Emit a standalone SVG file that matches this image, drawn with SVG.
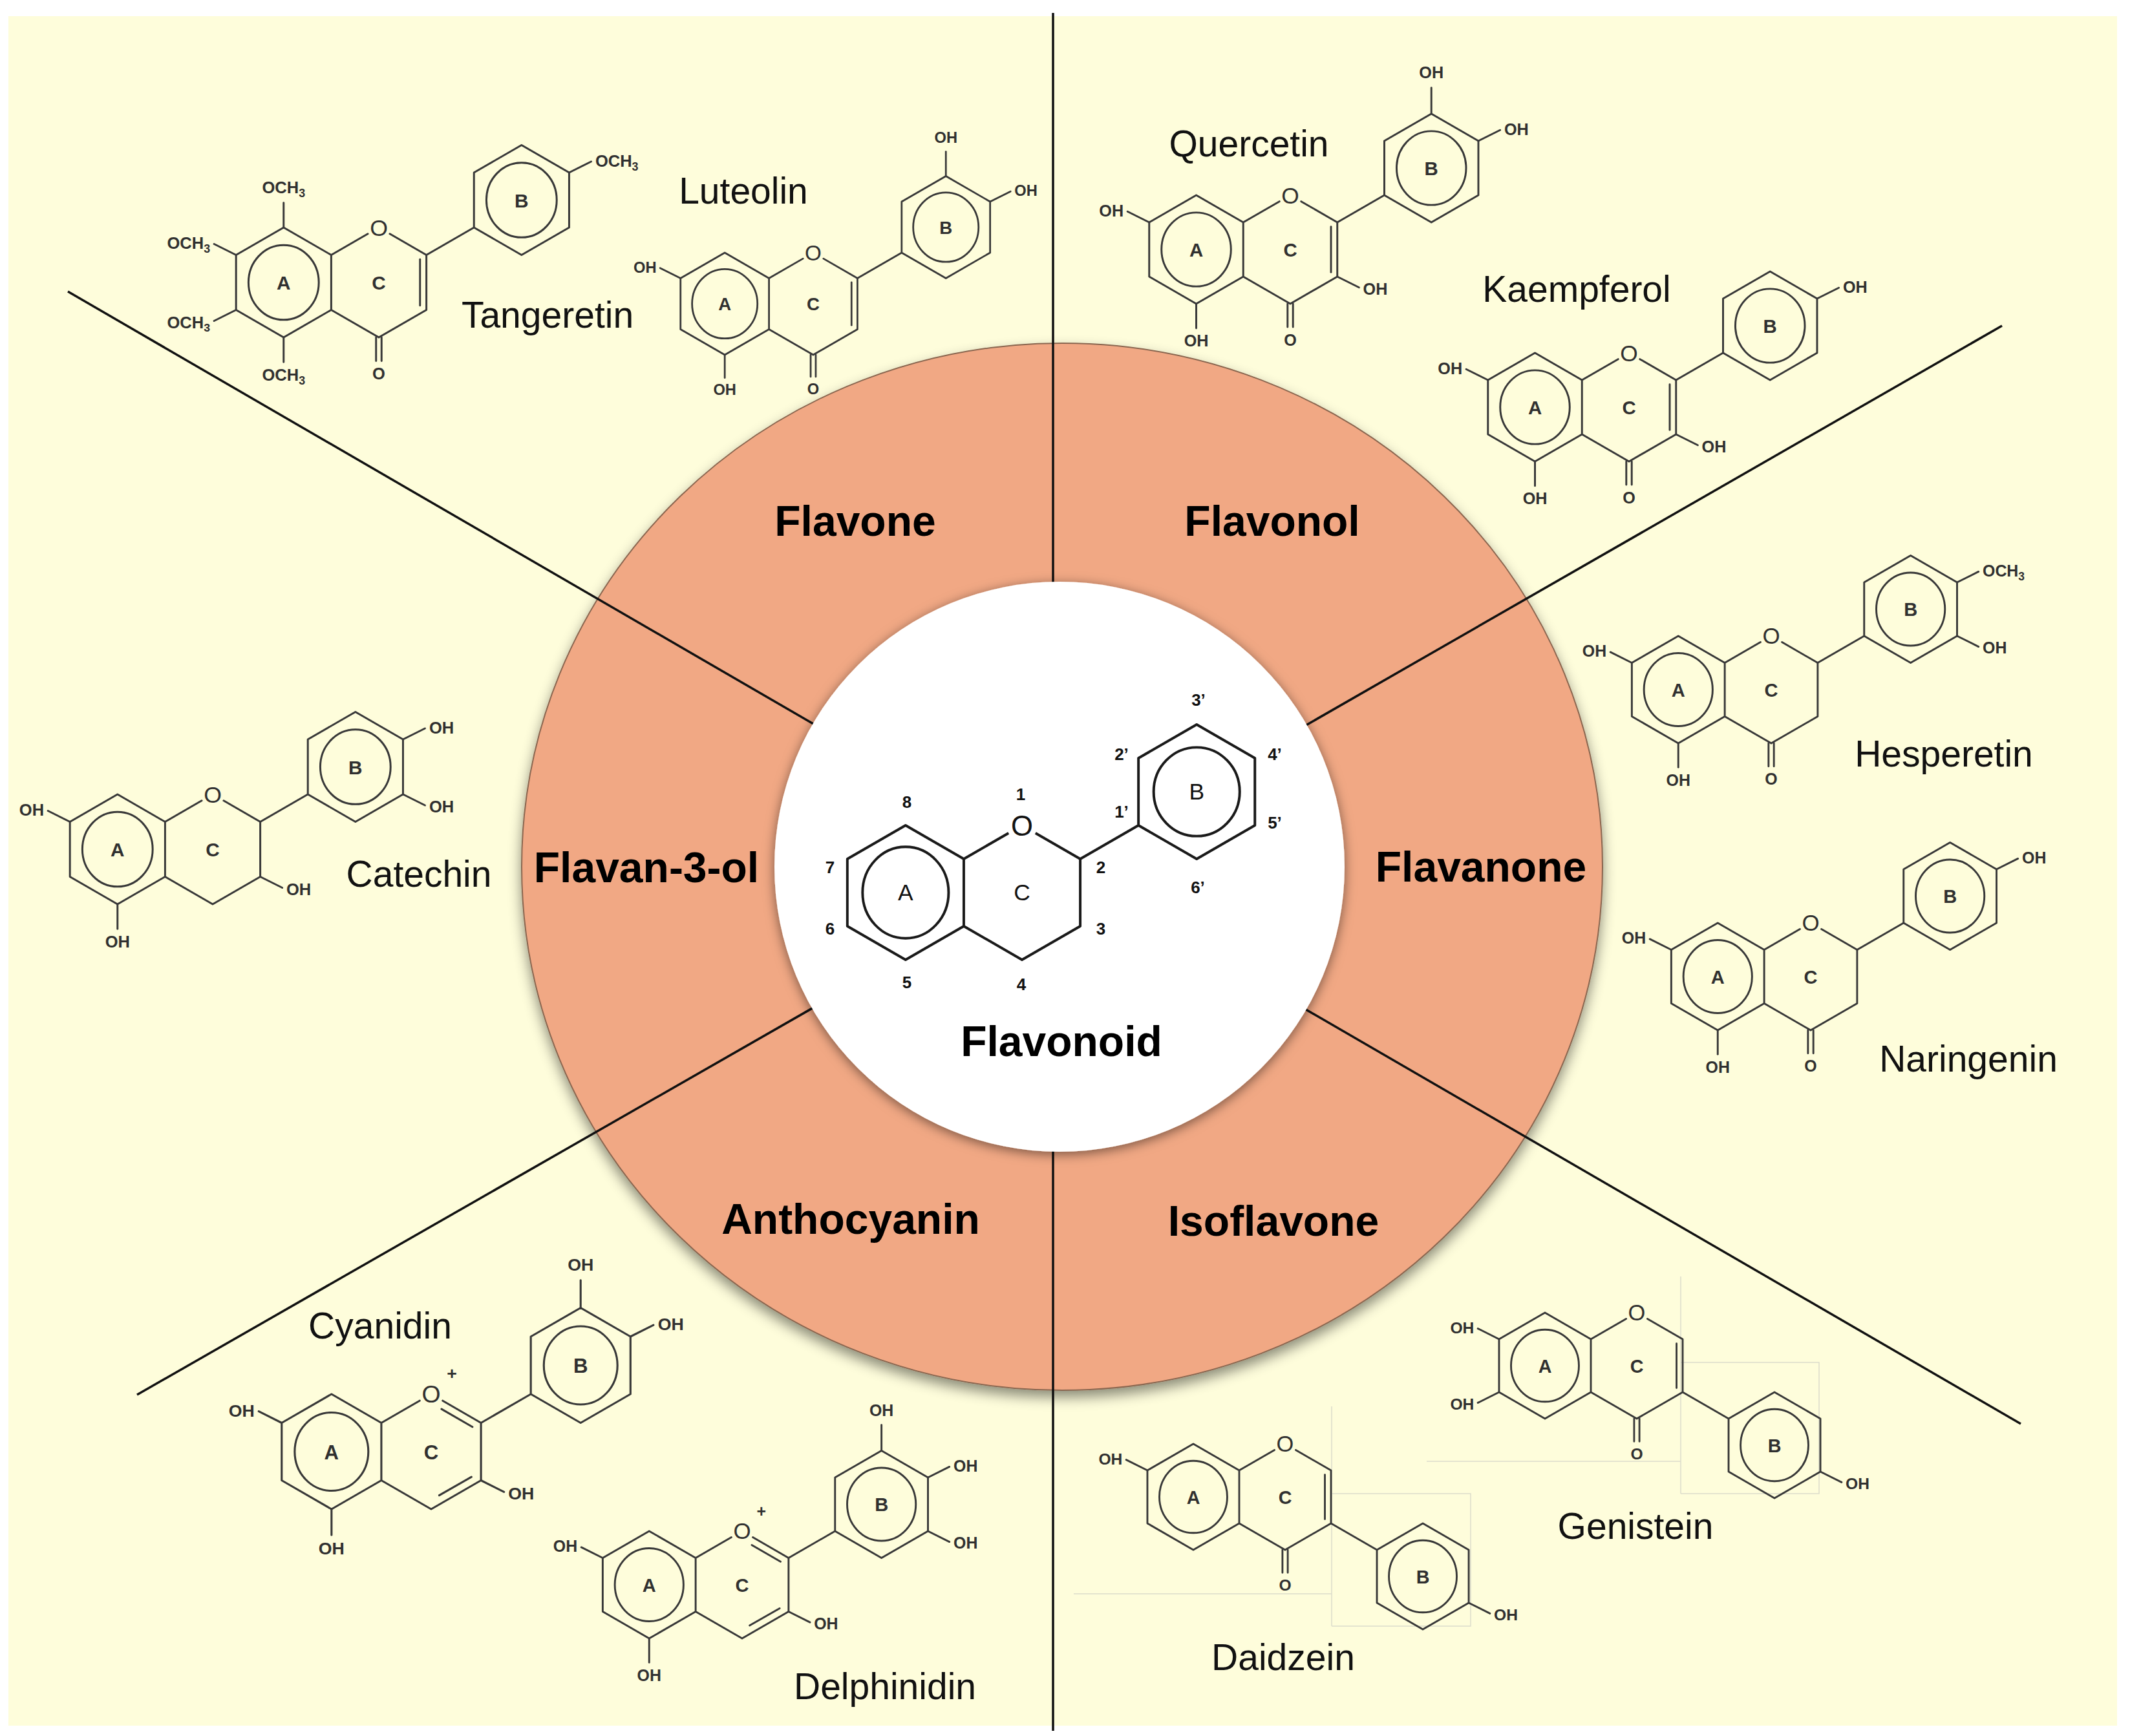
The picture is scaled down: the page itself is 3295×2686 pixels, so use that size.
<svg xmlns="http://www.w3.org/2000/svg" xmlns:xlink="http://www.w3.org/1999/xlink" width="3295" height="2686" viewBox="0 0 3295 2686">
<style>
.mol{fill:none;stroke:#383838;stroke-width:3.5;stroke-linecap:round;stroke-linejoin:round}
.cen{fill:none;stroke:#1a1a1a;stroke-width:3.8;stroke-linejoin:round}
.sub{font-family:"Liberation Sans",Arial,sans-serif;font-size:30px;font-weight:bold;fill:#303030;stroke:none}
.rl{font-family:"Liberation Sans",Arial,sans-serif;font-size:35px;font-weight:bold;fill:#303030;stroke:none;text-anchor:middle}
.ro{font-family:"Liberation Sans",Arial,sans-serif;font-size:42px;fill:#303030;stroke:none;text-anchor:middle}
.crl{font-family:"Liberation Sans",Arial,sans-serif;font-size:34px;fill:#111;stroke:none;text-anchor:middle}
.num{font-family:"Liberation Sans",Arial,sans-serif;font-size:26px;font-weight:bold;fill:#111;text-anchor:middle}
.name{font-family:"Liberation Sans",Arial,sans-serif;font-size:57px;fill:#111;text-anchor:middle}
.cat{font-family:"Liberation Sans",Arial,sans-serif;font-size:66px;font-weight:bold;fill:#000;text-anchor:middle}
.sep{stroke:#111;stroke-width:3.5;fill:none}
.ghost{stroke:#dcdccc;stroke-width:1.5;fill:none}
.m{text-anchor:middle}.e{text-anchor:end}.s{text-anchor:start}
</style>
<defs>
<filter id="sh" x="-10%" y="-10%" width="120%" height="125%">
<feDropShadow dx="0" dy="10" stdDeviation="10" flood-color="#000" flood-opacity="0.45"/>
</filter>
<filter id="sh2" x="-15%" y="-15%" width="130%" height="130%">
<feDropShadow dx="0" dy="4" stdDeviation="9" flood-color="#000" flood-opacity="0.5"/>
</filter>
<g id="ringAC">
<path d="M-86.6,-50 L-173.2,-100 L-259.8,-50 L-259.8,50 L-173.2,100 L-86.6,50 Z M-86.6,-50 L-20,-88.5 M20,-88.5 L86.6,-50 L86.6,50 L0,100 L-86.6,50"/>
<ellipse cx="-173.2" cy="0" rx="64" ry="68"/>
</g>
<g id="lblAC">
<text class="rl" x="-173.2" y="13">A</text>
<text class="rl" x="0" y="13">C</text>
<text class="ro" x="0" y="-85">O</text>
</g>
<g id="bUp">
<path d="M86.6,-50 L173.2,-100 M173.2,-100 L173.2,-200 L259.8,-250 L346.4,-200 L346.4,-100 L259.8,-50 Z"/>
<ellipse cx="259.8" cy="-150" rx="64" ry="68"/>
<text class="rl" x="259.8" y="-137">B</text>
</g>
<g id="bDown">
<path d="M86.6,50 L173.2,100 M173.2,100 L259.8,50 L346.4,100 L346.4,200 L259.8,250 L173.2,200 Z"/>
<ellipse cx="259.8" cy="150" rx="64" ry="68"/>
<text class="rl" x="259.8" y="163">B</text>
</g>
<path id="dbl23" d="M75,-42 L75,42"/>
<g id="carb">
<path d="M-5,100 L-5,143 M5,100 L5,143"/>
<text class="sub m" x="0" y="177">O</text>
</g>
<g id="antho">
<path d="M18,-74 L71.7,-43 M70,44 L14,76"/>
<text class="sub m" x="36" y="-126">+</text>
</g>
<g id="oh7"><path d="M-259.8,-50 l-40,-20"/><text class="sub e" x="-307" y="-61">OH</text></g>
<g id="oh6"><path d="M-259.8,50 l-40,20"/><text class="sub e" x="-307" y="83">OH</text></g>
<g id="oh5"><path d="M-173.2,100 l0,45"/><text class="sub m" x="-173.2" y="179">OH</text></g>
<g id="oh3"><path d="M86.6,50 l40,20"/><text class="sub s" x="134" y="83">OH</text></g>
<g id="ohBt"><path d="M259.8,-250 l0,-48"/><text class="sub m" x="259.8" y="-315">OH</text></g>
<g id="ohBur"><path d="M346.4,-200 l40,-20"/><text class="sub s" x="394" y="-211">OH</text></g>
<g id="ohBlr"><path d="M346.4,-100 l40,20"/><text class="sub s" x="394" y="-67">OH</text></g>
<g id="ohIso"><path d="M346.4,200 l40,20"/><text class="sub s" x="394" y="233">OH</text></g>
</defs>

<rect x="0" y="0" width="3295" height="2686" fill="#ffffff"/>
<rect x="13" y="25" width="3262" height="2645" fill="#fefddb"/>

<g id="ring">
<ellipse cx="1643" cy="1341" rx="836" ry="810" fill="#f1a884" stroke="#8a6650" stroke-width="2" filter="url(#sh)"/>
</g>

<g id="connectors">
<line class="sep" x1="1629" y1="20" x2="1629" y2="2678"/>
<line class="sep" x1="105" y1="451" x2="1639" y2="1341"/>
<line class="sep" x1="3097" y1="504" x2="1639" y2="1341"/>
<line class="sep" x1="3126" y1="2203" x2="1639" y2="1341"/>
<line class="sep" x1="212" y1="2158" x2="1639" y2="1341"/>
</g>

<g id="core">
<circle cx="1639" cy="1341" r="441" fill="#ffffff" filter="url(#sh2)"/>
<g class="cen" transform="translate(1581,1381) scale(1.04)">
<use href="#ringAC"/>
<path d="M86.6,-50 L173.2,-100 M173.2,-100 L173.2,-200 L259.8,-250 L346.4,-200 L346.4,-100 L259.8,-50 Z"/>
<ellipse cx="259.8" cy="-150" rx="64" ry="66"/>
<text class="crl" x="-173.2" y="12">A</text>
<text class="crl" x="0" y="12">C</text>
<text class="crl" x="259.8" y="-138">B</text>
<text class="ro" x="0" y="-85" style="fill:#111">O</text>
</g>
<text class="num" x="1403" y="1249.5">8</text>
<text class="num" x="1579" y="1237.5">1</text>
<text class="num" x="1284" y="1350.5">7</text>
<text class="num" x="1284" y="1445.5">6</text>
<text class="num" x="1403" y="1528.5">5</text>
<text class="num" x="1580" y="1531.5">4</text>
<text class="num" x="1703" y="1445.5">3</text>
<text class="num" x="1703" y="1350.5">2</text>
<text class="num" x="1735" y="1264.5">1’</text>
<text class="num" x="1735" y="1175.5">2’</text>
<text class="num" x="1854" y="1091.5">3’</text>
<text class="num" x="1972" y="1175.5">4’</text>
<text class="num" x="1972" y="1281.5">5’</text>
<text class="num" x="1853" y="1381.5">6’</text>
<text class="cat" x="1642" y="1634">Flavonoid</text>
</g>

<g id="classes">
<text class="cat" x="1323" y="829">Flavone</text>
<text class="cat" x="1968" y="829">Flavonol</text>
<text class="cat" x="1000" y="1365">Flavan-3-ol</text>
<text class="cat" x="2291" y="1364">Flavanone</text>
<text class="cat" x="1316" y="1909">Anthocyanin</text>
<text class="cat" x="1970" y="1912">Isoflavone</text>
</g>

<g id="tangeretin">
<g class="mol" transform="translate(586,437) scale(0.85)">
<use href="#ringAC"/><use href="#lblAC"/><use href="#bUp"/><use href="#dbl23"/><use href="#carb"/>
<path d="M-173.2,-100 l0,-45 M-259.8,-50 l-40,-20 M-259.8,50 l-40,20 M-173.2,100 l0,45 M346.4,-200 l40,-20"/>
<text class="sub m" x="-173.2" y="-162">OCH<tspan font-size="21" dy="7">3</tspan></text>
<text class="sub e" x="-307" y="-61">OCH<tspan font-size="21" dy="7">3</tspan></text>
<text class="sub e" x="-307" y="83">OCH<tspan font-size="21" dy="7">3</tspan></text>
<text class="sub m" x="-173.2" y="179">OCH<tspan font-size="21" dy="7">3</tspan></text>
<text class="sub s" x="394" y="-211">OCH<tspan font-size="21" dy="7">3</tspan></text>
</g>
<text class="name" x="847" y="507">Tangeretin</text>
</g>

<g id="luteolin">
<g class="mol" transform="translate(1258,470) scale(0.79)">
<use href="#ringAC"/><use href="#lblAC"/><use href="#bUp"/><use href="#dbl23"/><use href="#carb"/>
<use href="#oh7"/><use href="#oh5"/><use href="#ohBt"/><use href="#ohBur"/>
</g>
<text class="name" x="1150" y="315">Luteolin</text>
</g>

<g id="quercetin">
<g class="mol" transform="translate(1996,386) scale(0.84)">
<use href="#ringAC"/><use href="#lblAC"/><use href="#bUp"/><use href="#dbl23"/><use href="#carb"/>
<use href="#oh7"/><use href="#oh5"/><use href="#oh3"/><use href="#ohBt"/><use href="#ohBur"/>
</g>
<text class="name" x="1932" y="242">Quercetin</text>
</g>

<g id="kaempferol">
<g class="mol" transform="translate(2520,630) scale(0.84)">
<use href="#ringAC"/><use href="#lblAC"/><use href="#bUp"/><use href="#dbl23"/><use href="#carb"/>
<use href="#oh7"/><use href="#oh5"/><use href="#oh3"/><use href="#ohBur"/>
</g>
<text class="name" x="2439" y="467">Kaempferol</text>
</g>

<g id="hesperetin">
<g class="mol" transform="translate(2740,1067) scale(0.83)">
<use href="#ringAC"/><use href="#lblAC"/><use href="#bUp"/><use href="#carb"/>
<use href="#oh7"/><use href="#oh5"/><use href="#ohBlr"/>
<path d="M346.4,-200 l40,-20"/>
<text class="sub s" x="394" y="-211">OCH<tspan font-size="21" dy="7">3</tspan></text>
</g>
<text class="name" x="3007" y="1186">Hesperetin</text>
</g>

<g id="naringenin">
<g class="mol" transform="translate(2801,1511) scale(0.83)">
<use href="#ringAC"/><use href="#lblAC"/><use href="#bUp"/><use href="#carb"/>
<use href="#oh7"/><use href="#oh5"/><use href="#ohBur"/>
</g>
<text class="name" x="3045" y="1658">Naringenin</text>
</g>

<g id="catechin">
<g class="mol" transform="translate(329,1314) scale(0.85)">
<use href="#ringAC"/><use href="#lblAC"/><use href="#bUp"/>
<use href="#oh7"/><use href="#oh5"/><use href="#oh3"/><use href="#ohBur"/><use href="#ohBlr"/>
</g>
<text class="name" x="648" y="1372">Catechin</text>
</g>

<g id="cyanidin">
<g class="mol" transform="translate(667,2246) scale(0.89)">
<use href="#ringAC"/><use href="#lblAC"/><use href="#bUp"/><use href="#antho"/>
<use href="#oh7"/><use href="#oh5"/><use href="#oh3"/><use href="#ohBt"/><use href="#ohBur"/>
</g>
<text class="name" x="588" y="2071">Cyanidin</text>
</g>

<g id="delphinidin">
<g class="mol" transform="translate(1148,2452) scale(0.83)">
<use href="#ringAC"/><use href="#lblAC"/><use href="#bUp"/><use href="#antho"/>
<use href="#oh7"/><use href="#oh5"/><use href="#oh3"/><use href="#ohBt"/><use href="#ohBur"/><use href="#ohBlr"/>
</g>
<text class="name" x="1369" y="2629">Delphinidin</text>
</g>

<g id="genistein">
<path class="ghost" d="M2600,1975 L2600,2311 M2207,2261 L2600,2261 M2600,2108 L2814,2108 L2814,2311 L2600,2311"/>
<g class="mol" transform="translate(2532,2113) scale(0.82)">
<use href="#ringAC"/><use href="#lblAC"/><use href="#bDown"/><use href="#dbl23"/><use href="#carb"/>
<use href="#oh7"/><use href="#oh6"/><use href="#ohIso"/>
</g>
<text class="name" x="2530" y="2381">Genistein</text>
</g>

<g id="daidzein">
<path class="ghost" d="M2060,2176 L2060,2516 M1661,2466 L2060,2466 M2060,2311 L2275,2311 L2275,2516 L2060,2516"/>
<g class="mol" transform="translate(1988,2316) scale(0.82)">
<use href="#ringAC"/><use href="#lblAC"/><use href="#bDown"/><use href="#dbl23"/><use href="#carb"/>
<use href="#oh7"/><use href="#ohIso"/>
</g>
<text class="name" x="1985" y="2584">Daidzein</text>
</g>
</svg>
